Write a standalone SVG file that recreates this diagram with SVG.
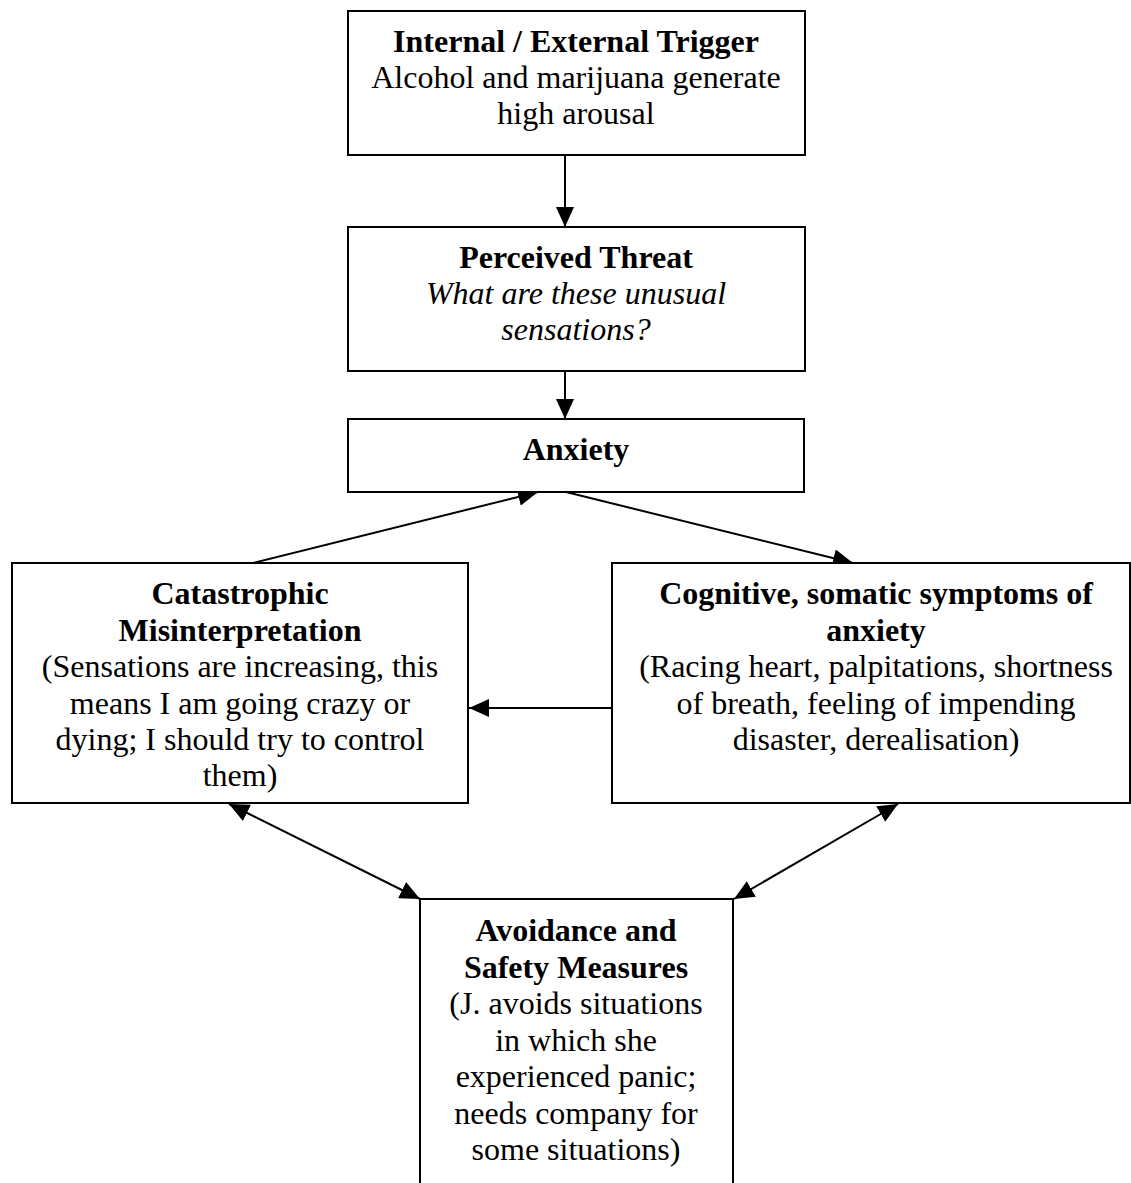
<svg xmlns="http://www.w3.org/2000/svg" width="1131" height="1183" viewBox="0 0 1131 1183">
<style>
.box{fill:#fff;stroke:#000;stroke-width:2}
.t{font-family:"Liberation Serif","Times New Roman",serif;font-size:32px;text-anchor:middle;fill:#000}
.b{font-weight:bold}
.i{font-style:italic}
.c{stroke:#000;stroke-width:2;fill:none}
</style>
<defs>
<marker id="ah" markerUnits="userSpaceOnUse" markerWidth="22" markerHeight="18" refX="20" refY="9" orient="auto-start-reverse">
<path d="M0,0 L20,9 L0,18 Z" fill="#000"/>
</marker>
</defs>
<g id="connectors">
<line class="c" x1="565" y1="155" x2="565" y2="227" marker-end="url(#ah)"/>
<line class="c" x1="565" y1="371" x2="565" y2="419" marker-end="url(#ah)"/>
<line class="c" x1="253" y1="563" x2="538" y2="492" marker-end="url(#ah)"/>
<line class="c" x1="566" y1="492" x2="853" y2="563" marker-end="url(#ah)"/>
<line class="c" x1="612" y1="708" x2="469" y2="708" marker-end="url(#ah)"/>
<line class="c" x1="229" y1="804" x2="420" y2="899" marker-start="url(#ah)" marker-end="url(#ah)"/>
<line class="c" x1="898" y1="804" x2="734" y2="899" marker-start="url(#ah)" marker-end="url(#ah)"/>
</g>
<g id="trigger">
<rect class="box" x="348" y="11" width="457" height="144"/>
<text class="t b" x="576" y="52">Internal / External Trigger</text>
<text class="t" x="576" y="88">Alcohol and marijuana generate</text>
<text class="t" x="576" y="124">high arousal</text>
</g>
<g id="threat">
<rect class="box" x="348" y="227" width="457" height="144"/>
<text class="t b" x="576" y="268">Perceived Threat</text>
<text class="t i" x="576" y="304">What are these unusual</text>
<text class="t i" x="576" y="340">sensations?</text>
</g>
<g id="anxiety">
<rect class="box" x="348" y="419" width="456" height="73"/>
<text class="t b" x="576" y="460">Anxiety</text>
</g>
<g id="catastrophic">
<rect class="box" x="12" y="563" width="456" height="240"/>
<text class="t b" x="240" y="604">Catastrophic</text>
<text class="t b" x="240" y="641">Misinterpretation</text>
<text class="t" x="240" y="677">(Sensations are increasing, this</text>
<text class="t" x="240" y="714">means I am going crazy or</text>
<text class="t" x="240" y="750">dying; I should try to control</text>
<text class="t" x="240" y="786">them)</text>
</g>
<g id="symptoms">
<rect class="box" x="612" y="563" width="518" height="240"/>
<text class="t b" x="876" y="604">Cognitive, somatic symptoms of</text>
<text class="t b" x="876" y="641">anxiety</text>
<text class="t" x="876" y="677">(Racing heart, palpitations, shortness</text>
<text class="t" x="876" y="714">of breath, feeling of impending</text>
<text class="t" x="876" y="750">disaster, derealisation)</text>
</g>
<g id="avoidance">
<rect class="box" x="420" y="899" width="313" height="300"/>
<text class="t b" x="576" y="941">Avoidance and</text>
<text class="t b" x="576" y="978">Safety Measures</text>
<text class="t" x="576" y="1014">(J. avoids situations</text>
<text class="t" x="576" y="1051">in which she</text>
<text class="t" x="576" y="1087">experienced panic;</text>
<text class="t" x="576" y="1124">needs company for</text>
<text class="t" x="576" y="1160">some situations)</text>
</g>
</svg>
